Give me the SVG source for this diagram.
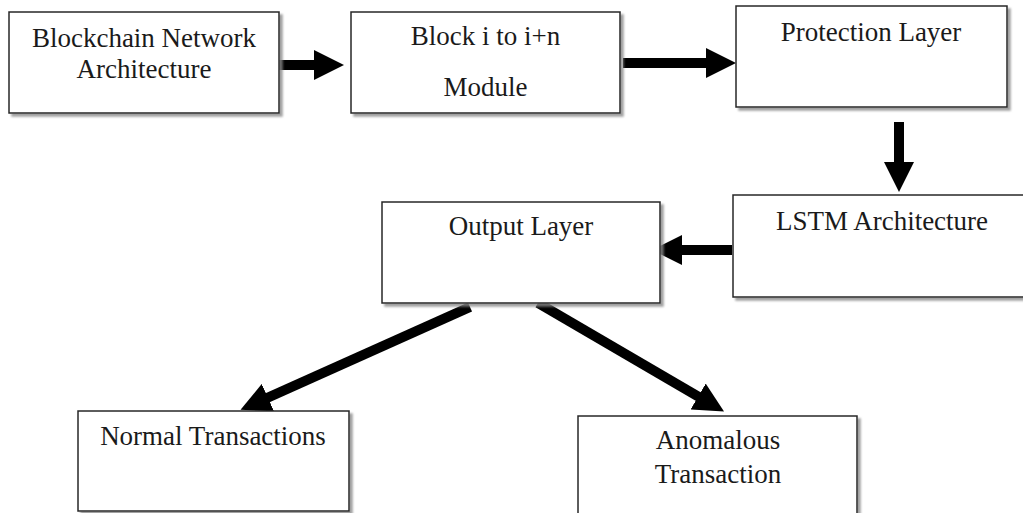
<svg xmlns="http://www.w3.org/2000/svg" width="1023" height="513" viewBox="0 0 1023 513">
<style>
.box{fill:#fff;stroke:#262626;stroke-width:1.5;filter:url(#sh)}
.lbl{font-family:"Liberation Serif","Times New Roman",serif;font-size:27px;fill:#1a1a1a;text-anchor:middle}
.arr{stroke:#000;stroke-width:10;fill:none;marker-end:url(#ah)}
</style>
<defs>
<filter id="sh" x="-5%" y="-5%" width="115%" height="120%">
<feDropShadow dx="3" dy="3" stdDeviation="1" flood-color="#888" flood-opacity="0.8"/>
</filter>
<marker id="ah" markerUnits="strokeWidth" markerWidth="3" markerHeight="3" refX="0.1" refY="1.5" orient="auto">
<path d="M0,0 L3,1.5 L0,3 z" fill="#000"/>
</marker>
</defs>
<rect width="1023" height="513" fill="#fff"/>
<g id="connectors">
<line class="arr" x1="279" y1="65" x2="315" y2="65"/>
<line class="arr" x1="623" y1="63" x2="707" y2="63"/>
<line class="arr" x1="899" y1="122" x2="899" y2="163"/>
<line class="arr" x1="732" y1="250" x2="681" y2="250"/>
<line class="arr" x1="470" y1="307" x2="267" y2="398"/>
<line class="arr" x1="538" y1="303" x2="699" y2="397"/>
</g>
<g id="n1">
<rect class="box" x="9" y="12" width="270" height="101"/>
<text class="lbl" x="144" y="47">Blockchain Network</text>
<text class="lbl" x="144" y="78">Architecture</text>
</g>
<g id="n2">
<rect class="box" x="351" y="12" width="269" height="101"/>
<text class="lbl" x="485.5" y="45">Block i to i+n</text>
<text class="lbl" x="485.5" y="96">Module</text>
</g>
<g id="n3">
<rect class="box" x="736" y="6" width="271" height="101"/>
<text class="lbl" x="871" y="41">Protection Layer</text>
</g>
<g id="n4">
<rect class="box" x="733" y="195" width="310" height="102"/>
<text class="lbl" x="882" y="230">LSTM Architecture</text>
</g>
<g id="n5">
<rect class="box" x="382" y="202" width="278" height="101"/>
<text class="lbl" x="521" y="235">Output Layer</text>
</g>
<g id="n6">
<rect class="box" x="78" y="411" width="271" height="100"/>
<text class="lbl" x="213" y="445">Normal Transactions</text>
</g>
<g id="n7">
<rect class="box" x="578" y="416" width="279" height="110"/>
<text class="lbl" x="718" y="449">Anomalous</text>
<text class="lbl" x="718" y="483">Transaction</text>
</g>
</svg>
